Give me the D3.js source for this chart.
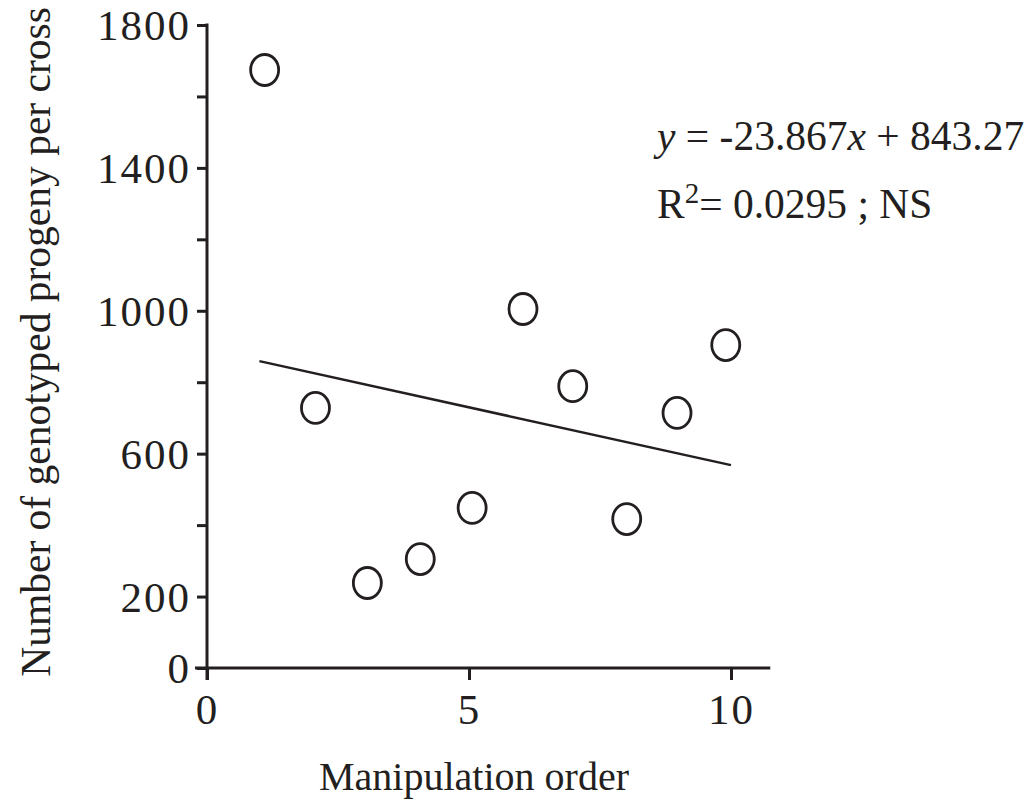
<!DOCTYPE html>
<html><head><meta charset="utf-8">
<script src="https://cdn.jsdelivr.net/npm/d3@7"></script>
<style>body{margin:0;background:#fff;} text{font-family:"Liberation Serif","Times New Roman",serif;fill:#231f20;}</style>
</head><body>
<svg id="c" width="1029" height="800"></svg>
<script>
// Data
const manipulationOrder = [1.1, 2.07, 3.06, 4.07, 5.06, 6.03, 6.98, 8.01, 8.97, 9.9];
const progenyCount = [1674, 728, 238, 305, 448, 1005, 789, 417, 714, 904];
const trendX = [1, 10];
const trendY = [859, 568];
const yTicks = [0, 200, 400, 600, 800, 1000, 1200, 1400, 1600, 1800];
const yLabeled = [0, 200, 600, 1000, 1400, 1800];
const xTicks = [0, 5, 10];
const equationText = "-23.867";
const interceptText = "843.27";
const r2Text = "0.0295";

const svg = d3.select("#c");
const ink = "#231f20";
const x = d3.scaleLinear().domain([0, 10]).range([207, 731]);
const y = d3.scaleLinear().domain([0, 1800]).range([668, 25]);

// y axis
const yAxis = d3.axisLeft(y).tickValues(yTicks).tickSize(10).tickPadding(6)
  .tickFormat(d => yLabeled.includes(d) ? d : "");
const gy = svg.append("g").attr("transform", `translate(${x(0)},0)`).call(yAxis);
gy.select(".domain").remove();
gy.selectAll(".tick line").attr("stroke", ink).attr("stroke-width", 3);
gy.selectAll(".tick text").style("font-size", "43px").style("letter-spacing", "2px").attr("fill", ink).attr("dy", "0.34em");
svg.append("line").attr("x1", x(0)).attr("x2", x(0)).attr("y1", y(1800) - 1.5).attr("y2", y(0) + 12)
  .attr("stroke", ink).attr("stroke-width", 3);

// x axis
const xAxis = d3.axisBottom(x).tickValues(xTicks).tickSize(12).tickPadding(13);
const gx = svg.append("g").attr("transform", `translate(0,${y(0)})`).call(xAxis);
gx.select(".domain").remove();
gx.selectAll(".tick line").attr("stroke", ink).attr("stroke-width", 3);
gx.selectAll(".tick text").style("font-size", "43px").style("letter-spacing", "2px").attr("fill", ink);
svg.append("line").attr("x1", x(0) - 12).attr("x2", x(10.75)).attr("y1", y(0)).attr("y2", y(0))
  .attr("stroke", ink).attr("stroke-width", 3);

// trend line
svg.append("line")
  .attr("x1", x(trendX[0])).attr("y1", y(trendY[0]))
  .attr("x2", x(trendX[1])).attr("y2", y(trendY[1]))
  .attr("stroke", ink).attr("stroke-width", 2.5);

// points
svg.append("g").selectAll("ellipse").data(manipulationOrder).join("ellipse")
  .attr("cx", (d) => x(d)).attr("cy", (d, i) => y(progenyCount[i]))
  .attr("rx", 14).attr("ry", 15.5)
  .attr("fill", "none").attr("stroke", ink).attr("stroke-width", 2.8);

// axis titles
svg.append("text").attr("x", 474).attr("y", 790).attr("text-anchor", "middle")
  .style("font-size", "40px").text("Manipulation order");
svg.append("text").attr("transform", "translate(50,342) rotate(-90)").attr("text-anchor", "middle")
  .style("font-size", "41.5px").text("Number of genotyped progeny per cross");

// equation
const eq = svg.append("text").attr("x", 657).attr("y", 150).style("font-size", "41.5px");
eq.append("tspan").style("font-style", "italic").text("y");
eq.append("tspan").text(" = " + equationText);
eq.append("tspan").style("font-style", "italic").text("x");
eq.append("tspan").text(" + " + interceptText);
const r2 = svg.append("text").attr("x", 657).attr("y", 218).style("font-size", "41.5px");
r2.append("tspan").text("R");
r2.append("tspan").attr("dy", -15).style("font-size", "29px").text("2");
r2.append("tspan").attr("dy", 15).text("= " + r2Text + " ; NS");
</script>
</body></html>
